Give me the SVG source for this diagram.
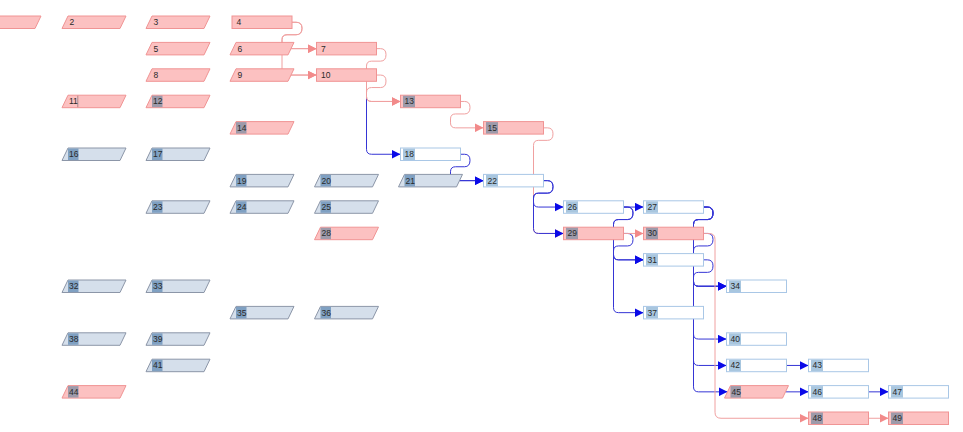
<svg xmlns="http://www.w3.org/2000/svg" xmlns:xlink="http://www.w3.org/1999/xlink" width="963" height="432" viewBox="0 0 963 432">
<style>
.pk{fill:#fcc1c1;stroke:#f09494;stroke-width:1}
.bl{fill:#d5dfeb;stroke:#8c96a8;stroke-width:1}
.wh{fill:#ffffff;stroke:#a9c7e6;stroke-width:1}
.lg{fill:#9d9aaa}
.ls{fill:#7fa0c2}
.lb{fill:#a8c6df}
text{font-family:"Liberation Sans",Arial,sans-serif;font-size:8.5px;fill:#2a2a2a}
.cb{fill:none;stroke:#3535d5;stroke-width:1;marker-end:url(#ab)}
.cp{fill:none;stroke:#f0a0a0;stroke-width:1;marker-end:url(#ap)}
</style>
<defs>
<polygon id="para" points="-2,12.5 4,0 62,0 56,12.5"/>
<rect id="box" x="0" y="0" width="60" height="12.5"/>
<rect id="lr" x="2.5" y="0.5" width="12" height="11.5"/>
<rect id="lp" x="4" y="0.5" width="10.5" height="11.5"/>
<marker id="ab" markerUnits="userSpaceOnUse" markerWidth="9" markerHeight="9" refX="9" refY="4.5" orient="auto"><path d="M0,0 L9,4.5 L0,9 z" fill="#0a0ae8"/></marker>
<marker id="ap" markerUnits="userSpaceOnUse" markerWidth="9" markerHeight="9" refX="9" refY="4.5" orient="auto"><path d="M0,0 L9,4.5 L0,9 z" fill="#f28a8a"/></marker>
</defs>
<rect width="963" height="432" fill="#ffffff"/>
<g id="connectors">
<path class="cb" d="M366.5 97 V149.25 Q366.5 154.25 371.5 154.25 H400.5"/>
<path class="cp" d="M292 22.25 H296 Q302 22.25 302 28.25 Q302 34.75 296 34.75 H287 Q282 34.75 282 39.75 V43.65 Q282 48.65 287 48.65 H316.5"/>
<path class="cp" d="M292 22.25 H296 Q302 22.25 302 28.25 Q302 34.75 296 34.75 H287 Q282 34.75 282 39.75 V70.05 Q282 75.05 287 75.05 H316.5"/>
<path class="cp" d="M291 48.65 H316.5"/>
<path class="cp" d="M291 75.05 H316.5"/>
<path class="cp" d="M376.5 48.65 H380.5 Q386 48.65 386 54.65 Q386 61.15 380.5 61.15 H371.5 Q366.5 61.15 366.5 66.15 V96.45 Q366.5 101.45 371.5 101.45 H400.5"/>
<path class="cp" d="M376.5 75.05 H380.5 Q386 75.05 386 81.05 Q386 87.55 380.5 87.55 H371.5 Q366.5 87.55 366.5 92.55 V96.45 Q366.5 101.45 371.5 101.45 H400.5"/>
<path class="cp" d="M460.5 101.45 H464.5 Q470 101.45 470 107.45 Q470 113.95 464.5 113.95 H455.5 Q450.5 113.95 450.5 118.95 V122.85 Q450.5 127.85 455.5 127.85 H483.5"/>
<path class="cp" d="M543.5 127.85 H547.5 Q553 127.85 553 133.85 Q553 140.35 547.5 140.35 H538.5 Q533.5 140.35 533.5 145.35 V228.45 Q533.5 233.45 538.5 233.45 H563.5"/>
<path class="cb" d="M460.5 154.25 H464.5 Q470 154.25 470 160.25 Q470 166.75 464.5 166.75 H455.5 Q450.5 166.75 450.5 171.75 V175.65 Q450.5 180.65 455.5 180.65 H483.5"/>
<path class="cb" d="M459.5 180.65 H483.5"/>
<path class="cb" d="M543.5 180.65 H547.5 Q553 180.65 553 186.65 Q553 193.15 547.5 193.15 H538.5 Q533.5 193.15 533.5 198.15 V202.05 Q533.5 207.05 538.5 207.05 H563.5"/>
<path class="cb" d="M543.5 180.65 H547.5 Q553 180.65 553 186.65 Q553 193.15 547.5 193.15 H538.5 Q533.5 193.15 533.5 198.15 V228.45 Q533.5 233.45 538.5 233.45 H563.5"/>
<path class="cb" d="M623.5 207.05 H643.5"/>
<path class="cb" d="M623.5 207.05 H627.5 Q633 207.05 633 213.05 Q633 219.55 627.5 219.55 H618.5 Q613.5 219.55 613.5 224.55 V254.85 Q613.5 259.85 618.5 259.85 H643.5"/>
<path class="cb" d="M623.5 207.05 H627.5 Q633 207.05 633 213.05 Q633 219.55 627.5 219.55 H618.5 Q613.5 219.55 613.5 224.55 V307.65 Q613.5 312.65 618.5 312.65 H643.5"/>
<path class="cb" d="M623.5 233.45 H627.5 Q633 233.45 633 239.45 Q633 245.95 627.5 245.95 H618.5 Q613.5 245.95 613.5 250.95 V254.85 Q613.5 259.85 618.5 259.85 H643.5"/>
<path class="cb" d="M703.5 207.05 H707.5 Q713 207.05 713 213.05 Q713 219.55 707.5 219.55 H698.5 Q693.5 219.55 693.5 224.55 V281.25 Q693.5 286.25 698.5 286.25 H726.5"/>
<path class="cb" d="M703.5 207.05 H707.5 Q713 207.05 713 213.05 Q713 219.55 707.5 219.55 H698.5 Q693.5 219.55 693.5 224.55 V334.05 Q693.5 339.05 698.5 339.05 H726.5"/>
<path class="cb" d="M703.5 207.05 H707.5 Q713 207.05 713 213.05 Q713 219.55 707.5 219.55 H698.5 Q693.5 219.55 693.5 224.55 V360.45 Q693.5 365.45 698.5 365.45 H726.5"/>
<path class="cb" d="M703.5 207.05 H707.5 Q713 207.05 713 213.05 Q713 219.55 707.5 219.55 H698.5 Q693.5 219.55 693.5 224.55 V386.85 Q693.5 391.85 698.5 391.85 H727.5"/>
<path class="cb" d="M703.5 233.45 H707.5 Q713 233.45 713 239.45 Q713 245.95 707.5 245.95 H698.5 Q693.5 245.95 693.5 250.95 V281.25 Q693.5 286.25 698.5 286.25 H726.5"/>
<path class="cb" d="M703.5 259.85 H707.5 Q713 259.85 713 265.85 Q713 272.35 707.5 272.35 H698.5 Q693.5 272.35 693.5 277.35 V281.25 Q693.5 286.25 698.5 286.25 H726.5"/>
<path class="cb" d="M786.5 365.45 H808.5"/>
<path class="cb" d="M785.5 391.85 H808.5"/>
<path class="cb" d="M868.5 391.85 H888.5"/>
<path class="cp" d="M623.5 233.45 H643.5"/>
<path class="cp" d="M703.5 233.45 H709 Q715 233.45 715 239.45 V412.25 Q715 418.25 721 418.25 H808.5"/>
<path class="cp" d="M868.5 418.25 H888.5"/>
</g>
<g id="n1" transform="translate(-21,16)"><use href="#para" class="pk"/></g>
<g id="n2" transform="translate(64,16)"><use href="#para" class="pk"/><text x="5.5" y="9.3">2</text></g>
<g id="n3" transform="translate(148,16)"><use href="#para" class="pk"/><text x="5.5" y="9.3">3</text></g>
<g id="n4" transform="translate(232,16)"><use href="#box" class="pk"/><text x="4.5" y="9.3">4</text></g>
<g id="n5" transform="translate(148,42.4)"><use href="#para" class="pk"/><text x="5.5" y="9.3">5</text></g>
<g id="n6" transform="translate(232,42.4)"><use href="#para" class="pk"/><text x="5.5" y="9.3">6</text></g>
<g id="n7" transform="translate(316.5,42.4)"><use href="#box" class="pk"/><text x="4.5" y="9.3">7</text></g>
<g id="n8" transform="translate(148,68.8)"><use href="#para" class="pk"/><text x="5.5" y="9.3">8</text></g>
<g id="n9" transform="translate(232,68.8)"><use href="#para" class="pk"/><text x="5.5" y="9.3">9</text></g>
<g id="n10" transform="translate(316.5,68.8)"><use href="#box" class="pk"/><text x="4.5" y="9.3">10</text></g>
<g id="n11" transform="translate(64,95.2)"><use href="#para" class="pk"/><line x1="13.8" y1="0.5" x2="13.8" y2="12" stroke="#9a7a7a" stroke-width="0.8"/><text x="5" y="9.3">11</text></g>
<g id="n12" transform="translate(148,95.2)"><use href="#para" class="pk"/><use href="#lp" class="lg"/><text x="5" y="9.3">12</text></g>
<g id="n13" transform="translate(400.5,95.2)"><use href="#box" class="pk"/><use href="#lr" class="lg"/><text x="4" y="9.3">13</text></g>
<g id="n14" transform="translate(232,121.6)"><use href="#para" class="pk"/><use href="#lp" class="lg"/><text x="5" y="9.3">14</text></g>
<g id="n15" transform="translate(483.5,121.6)"><use href="#box" class="pk"/><use href="#lr" class="lg"/><text x="4" y="9.3">15</text></g>
<g id="n16" transform="translate(64,148)"><use href="#para" class="bl"/><use href="#lp" class="ls"/><text x="5" y="9.3">16</text></g>
<g id="n17" transform="translate(148,148)"><use href="#para" class="bl"/><use href="#lp" class="ls"/><text x="5" y="9.3">17</text></g>
<g id="n18" transform="translate(400.5,148)"><use href="#box" class="wh"/><use href="#lr" class="lb"/><text x="4" y="9.3">18</text></g>
<g id="n19" transform="translate(232,174.4)"><use href="#para" class="bl"/><use href="#lp" class="ls"/><text x="5" y="9.3">19</text></g>
<g id="n20" transform="translate(316.5,174.4)"><use href="#para" class="bl"/><use href="#lp" class="ls"/><text x="5" y="9.3">20</text></g>
<g id="n21" transform="translate(400.5,174.4)"><use href="#para" class="bl"/><use href="#lp" class="ls"/><text x="5" y="9.3">21</text></g>
<g id="n22" transform="translate(483.5,174.4)"><use href="#box" class="wh"/><use href="#lr" class="lb"/><text x="4" y="9.3">22</text></g>
<g id="n23" transform="translate(148,200.8)"><use href="#para" class="bl"/><use href="#lp" class="ls"/><text x="5" y="9.3">23</text></g>
<g id="n24" transform="translate(232,200.8)"><use href="#para" class="bl"/><use href="#lp" class="ls"/><text x="5" y="9.3">24</text></g>
<g id="n25" transform="translate(316.5,200.8)"><use href="#para" class="bl"/><use href="#lp" class="ls"/><text x="5" y="9.3">25</text></g>
<g id="n26" transform="translate(563.5,200.8)"><use href="#box" class="wh"/><use href="#lr" class="lb"/><text x="4" y="9.3">26</text></g>
<g id="n27" transform="translate(643.5,200.8)"><use href="#box" class="wh"/><use href="#lr" class="lb"/><text x="4" y="9.3">27</text></g>
<g id="n28" transform="translate(316.5,227.2)"><use href="#para" class="pk"/><use href="#lp" class="lg"/><text x="5" y="9.3">28</text></g>
<g id="n29" transform="translate(563.5,227.2)"><use href="#box" class="pk"/><use href="#lr" class="lg"/><text x="4" y="9.3">29</text></g>
<g id="n30" transform="translate(643.5,227.2)"><use href="#box" class="pk"/><use href="#lr" class="lg"/><text x="4" y="9.3">30</text></g>
<g id="n31" transform="translate(643.5,253.6)"><use href="#box" class="wh"/><use href="#lr" class="lb"/><text x="4" y="9.3">31</text></g>
<g id="n32" transform="translate(64,280)"><use href="#para" class="bl"/><use href="#lp" class="ls"/><text x="5" y="9.3">32</text></g>
<g id="n33" transform="translate(148,280)"><use href="#para" class="bl"/><use href="#lp" class="ls"/><text x="5" y="9.3">33</text></g>
<g id="n34" transform="translate(726.5,280)"><use href="#box" class="wh"/><use href="#lr" class="lb"/><text x="4" y="9.3">34</text></g>
<g id="n35" transform="translate(232,306.4)"><use href="#para" class="bl"/><use href="#lp" class="ls"/><text x="5" y="9.3">35</text></g>
<g id="n36" transform="translate(316.5,306.4)"><use href="#para" class="bl"/><use href="#lp" class="ls"/><text x="5" y="9.3">36</text></g>
<g id="n37" transform="translate(643.5,306.4)"><use href="#box" class="wh"/><use href="#lr" class="lb"/><text x="4" y="9.3">37</text></g>
<g id="n38" transform="translate(64,332.8)"><use href="#para" class="bl"/><use href="#lp" class="ls"/><text x="5" y="9.3">38</text></g>
<g id="n39" transform="translate(148,332.8)"><use href="#para" class="bl"/><use href="#lp" class="ls"/><text x="5" y="9.3">39</text></g>
<g id="n40" transform="translate(726.5,332.8)"><use href="#box" class="wh"/><use href="#lr" class="lb"/><text x="4" y="9.3">40</text></g>
<g id="n41" transform="translate(148,359.2)"><use href="#para" class="bl"/><use href="#lp" class="ls"/><text x="5" y="9.3">41</text></g>
<g id="n42" transform="translate(726.5,359.2)"><use href="#box" class="wh"/><use href="#lr" class="lb"/><text x="4" y="9.3">42</text></g>
<g id="n43" transform="translate(808.5,359.2)"><use href="#box" class="wh"/><use href="#lr" class="lb"/><text x="4" y="9.3">43</text></g>
<g id="n44" transform="translate(64,385.6)"><use href="#para" class="pk"/><use href="#lp" class="lg"/><text x="5" y="9.3">44</text></g>
<g id="n45" transform="translate(726.5,385.6)"><use href="#para" class="pk"/><use href="#lp" class="lg"/><text x="5" y="9.3">45</text></g>
<g id="n46" transform="translate(808.5,385.6)"><use href="#box" class="wh"/><use href="#lr" class="lb"/><text x="4" y="9.3">46</text></g>
<g id="n47" transform="translate(888.5,385.6)"><use href="#box" class="wh"/><use href="#lr" class="lb"/><text x="4" y="9.3">47</text></g>
<g id="n48" transform="translate(808.5,412)"><use href="#box" class="pk"/><use href="#lr" class="lg"/><text x="4" y="9.3">48</text></g>
<g id="n49" transform="translate(888.5,412)"><use href="#box" class="pk"/><use href="#lr" class="lg"/><text x="4" y="9.3">49</text></g>
</svg>
